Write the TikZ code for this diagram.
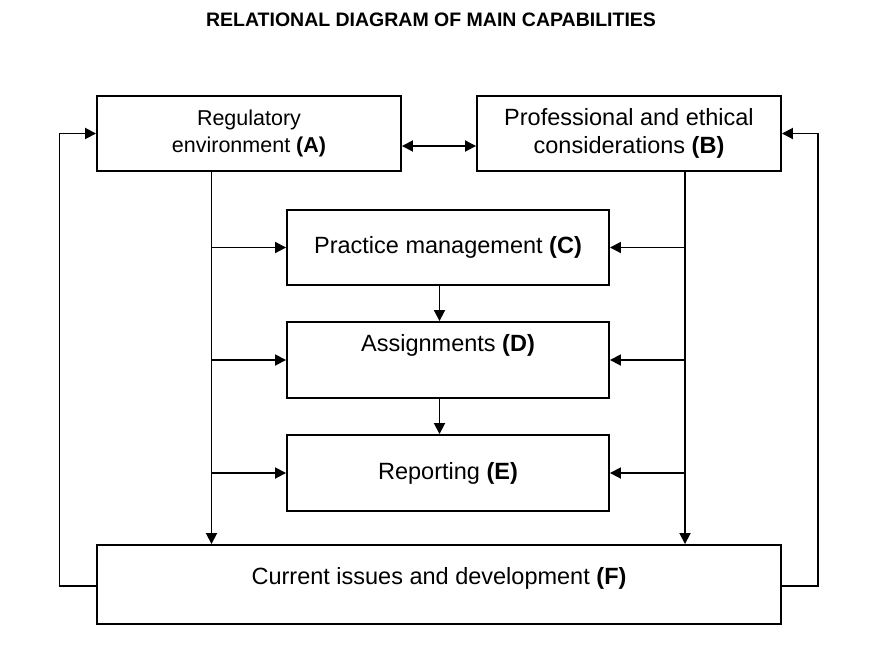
\documentclass[tikz,border=0pt]{standalone}
\usepackage{fontspec}
\setmainfont{Liberation Sans}
\usetikzlibrary{arrows.meta}
\tikzset{
  box/.style={draw, line width=1.9pt, rectangle, inner sep=0pt, align=center},
  conn/.style={line width=1.8pt},
  arr/.style={conn, -{Triangle[length=11pt,width=11pt]}},
  barr/.style={conn, {Triangle[length=11pt,width=11pt]}-{Triangle[length=11pt,width=11pt]}},
  bodytext/.style={font=\fontsize{23.5}{28}\selectfont},
  smalltext/.style={font=\fontsize{21.5}{27.5}\selectfont},
}
\begin{document}
\begin{tikzpicture}[x=1pt,y=-1pt]
\useasboundingbox (0,0) rectangle (876,648);
\node[font=\fontsize{19.5}{23}\selectfont\bfseries] (title) at (431,20) {RELATIONAL DIAGRAM OF MAIN CAPABILITIES};
\node[box, smalltext, minimum width=304pt, minimum height=75pt] (A) at (249,133.5) {Regulatory\\environment \textbf{(A)}};
\node[box, bodytext, minimum width=304pt, minimum height=75pt] (B) at (629,133.5) {Professional and ethical\\considerations \textbf{(B)}};
\node[box, bodytext, minimum width=322pt, minimum height=75pt] (C) at (448,247.5) {Practice management \textbf{(C)}};
\node[box, minimum width=322pt, minimum height=76pt] (D) at (448,360) {};
\node[bodytext] (Dt) at (448,345) {Assignments \textbf{(D)}};
\node[box, bodytext, minimum width=322pt, minimum height=76pt] (E) at (448,473) {Reporting \textbf{(E)}};
\node[box, minimum width=684pt, minimum height=79pt] (F) at (439,584.5) {};
\node[bodytext] (Ft) at (439,578) {Current issues and development \textbf{(F)}};
\coordinate (aX) at (211.5,0);
\coordinate (bX) at (685,0);
\coordinate (mX) at (439.5,0);
\coordinate (lX) at (59.5,0);
\coordinate (rX) at (818,0);
\draw[barr] ([yshift=-12.5pt]A.east) -- ([yshift=-12.5pt]B.west);
\draw[arr] (A.south -| aX) -- (F.north -| aX);
\draw[arr] (B.south -| bX) -- (F.north -| bX);
\draw[arr] (aX |- C.west) -- (C.west);
\draw[arr] (aX |- D.west) -- (D.west);
\draw[arr] (aX |- E.west) -- (E.west);
\draw[arr] (bX |- C.east) -- (C.east);
\draw[arr] (bX |- D.east) -- (D.east);
\draw[arr] (bX |- E.east) -- (E.east);
\draw[arr] (C.south -| mX) -- (D.north -| mX);
\draw[arr] (D.south -| mX) -- (E.north -| mX);
\draw[arr] ([yshift=-1.5pt]F.west) -- ([yshift=-1.5pt]F.west -| lX) |- (A.west);
\draw[arr] ([yshift=-1.5pt]F.east) -- ([yshift=-1.5pt]F.east -| rX) |- (B.east);
\end{tikzpicture}
\end{document}
